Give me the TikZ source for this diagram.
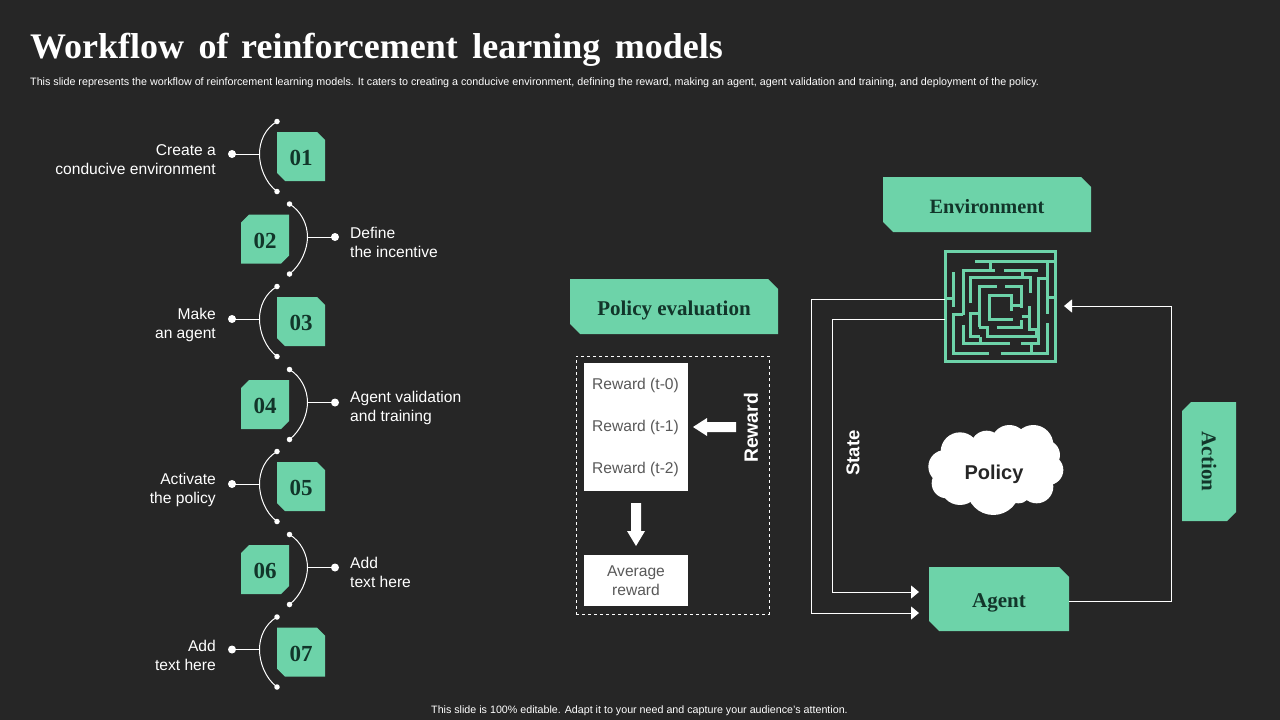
\documentclass[tikz,border=0pt]{standalone}
\usepackage{fontspec}
\setmainfont{Liberation Sans}
\newfontfamily\serifbold{Liberation Serif}
\usetikzlibrary{arrows.meta}
\definecolor{bg}{HTML}{262626}
\definecolor{mint}{HTML}{6DD3A9}
\definecolor{ink}{HTML}{12352A}
\definecolor{greytext}{HTML}{595959}
\newcommand{\fs}[1]{\fontsize{#1}{#1}\selectfont\baselineskip=1.22\baselineskip}
\tikzset{
  tagbase/.style={rectangle,text=ink,inner sep=0pt,outer sep=0pt,text depth=0pt},
  cutA/.style={path picture={
    \fill[mint] (path picture bounding box.north west) -- ([xshift=-#1]path picture bounding box.north east) -- ([yshift=-#1]path picture bounding box.north east) -- (path picture bounding box.south east) -- ([xshift=#1]path picture bounding box.south west) -- ([yshift=#1]path picture bounding box.south west) -- cycle;}},
  cutB/.style={path picture={
    \fill[mint] ([xshift=#1]path picture bounding box.north west) -- (path picture bounding box.north east) -- ([yshift=#1]path picture bounding box.south east) -- ([xshift=-#1]path picture bounding box.south east) -- (path picture bounding box.south west) -- ([yshift=-#1]path picture bounding box.north west) -- cycle;}},
  numtag/.style={tagbase,minimum width=48pt,minimum height=49pt,text height=18pt,font=\serifbold\bfseries\fs{23}},
  bigtag/.style={tagbase,cutA=10pt,text height=#1,font=\serifbold\bfseries\fs{21}},
  label/.style={text=white,font=\fs{15.6},inner sep=0pt,align=left,anchor=west},
  labelr/.style={text=white,font=\fs{15.6},inner sep=0pt,align=right,anchor=east},
  wire/.style={draw=white,line width=1pt},
  mazeink/.style={color=mint,line width=3pt,line cap=butt},
  arrowline/.style={wire,-{Triangle[length=8pt,width=13pt,fill=white]}},
  rewtext/.style={text=greytext,font=\fs{15.6},inner sep=0pt},
  whitebox/.style={fill=white,text=greytext,font=\fs{15.6},inner sep=0pt,align=center},
  dotbig/.style={circle,fill=white,inner sep=0pt,minimum size=8pt},
  dotsmall/.style={circle,fill=white,inner sep=0pt,minimum size=5.5pt},
}
\newcommand{\oddrow}[5]{% id, ycenter, number, line1, line2
  \node[numtag,cutA=8pt] (t#1) at (301,#2) {#3};
  \node[dotsmall] (u#1) at (277,#2-35) {};
  \node[dotsmall] (d#1) at (277,#2+35) {};
  \node[dotbig] (p#1) at (232,#2-2.5) {};
  \coordinate (m#1) at (259.5,#2-2.5);
  \draw[wire] (u#1.center) .. controls (265,#2-28) and (259.5,#2-15) .. (m#1) .. controls (259.5,#2+10) and (265,#2+26) .. (d#1.center);
  \draw[wire] (p#1.center) -- (m#1);
  \node[labelr] (l#1) at (216,#2+3) {#4\\#5};
}
\newcommand{\evenrow}[5]{%
  \node[numtag,cutB=8pt] (t#1) at (265,#2) {#3};
  \node[dotsmall] (u#1) at (289.5,#2-35) {};
  \node[dotsmall] (d#1) at (289.5,#2+35) {};
  \node[dotbig] (p#1) at (335,#2-2) {};
  \coordinate (m#1) at (307.5,#2-2);
  \draw[wire] (u#1.center) .. controls (301,#2-28) and (307.5,#2-15) .. (m#1) .. controls (307.5,#2+10) and (301,#2+26) .. (d#1.center);
  \draw[wire] (p#1.center) -- (m#1);
  \node[label] (l#1) at (350,#2+3) {#4\\#5};
}
\begin{document}
\begin{tikzpicture}[x=1pt,y=-1pt]
\useasboundingbox (0,0) rectangle (1280,720);
\fill[bg] (0,0) rectangle (1280,720);
\node[anchor=base west,inner sep=0pt,text=white,font=\serifbold\bfseries\fs{36}] (title) at (30,58) {Workflow\hspace{5.5pt} of\hspace{3.5pt} reinforcement\hspace{5.5pt} learning\hspace{5.5pt} models};
\node[anchor=base west,inner sep=0pt,text=white,font=\fs{10.73}] (sub) at (30,85) {This slide represents the workflow of reinforcement learning models. It caters to creating a conducive environment, defining the reward, making an agent, agent validation and training, and deployment of the policy.};
\node[anchor=base,inner sep=0pt,text=white,font=\fs{10.7}] (foot) at (639.5,713) {This slide is 100\% editable. Adapt it to your need and capture your audience's attention.};

\oddrow{1}{156.5}{01}{Create a}{conducive environment}
\evenrow{2}{239}{02}{Define}{the incentive}
\oddrow{3}{321.5}{03}{Make}{an agent}
\evenrow{4}{404.5}{04}{Agent validation}{and training}
\oddrow{5}{486.5}{05}{Activate}{the policy}
\evenrow{6}{569.5}{06}{Add}{text here}
\oddrow{7}{652}{07}{Add}{text here}

% policy evaluation
\node[bigtag=17pt,minimum width=208pt,minimum height=55pt] (pe) at (674,306.5) {Policy evaluation};
\node[draw=white,dashed,line width=1pt,minimum width=193pt,minimum height=258pt,inner sep=0pt] (dash) at (672.5,485) {};
\node[fill=white,minimum width=104pt,minimum height=128pt,inner sep=0pt] (rew) at (636,427) {};
\node[rewtext] (r0) at (635.5,385) {Reward (t-0)};
\node[rewtext] (r1) at (635.5,427) {Reward (t-1)};
\node[rewtext] (r2) at (635.5,469) {Reward (t-2)};
\node[whitebox,minimum width=104pt,minimum height=51pt] (avg) at (636,580.5) {\raisebox{-1pt}{Average}\\\raisebox{-1pt}{reward}};
\fill[white] (693,427) -- (707,418) -- (707,422) -- (736,422) -- (736,432) -- (707,432) -- (707,436) -- cycle;
\fill[white] (636,546) -- (627,531) -- (631,531) -- (631,503) -- (641,503) -- (641,531) -- (645,531) -- cycle;
\node[rotate=90,text=white,font=\bfseries\fs{19.3},inner sep=0pt] (rl) at (751,428) {Reward};

% right
\node[bigtag=18pt,minimum width=208pt,minimum height=55pt,font=\serifbold\bfseries\fs{20.3}] (env) at (987,204.5) {Environment};
\node[bigtag=17pt,minimum width=140pt,minimum height=64pt] (agent) at (999,599) {Agent};
\node[tagbase,cutB=9pt,minimum width=54pt,minimum height=119pt] (action) at (1209,461.5) {};
\node[rotate=-90,text=ink,font=\serifbold\bfseries\fs{21},inner sep=0pt] (actl) at (1209,461.5) {Action};
\node[rotate=90,text=white,font=\bfseries\fs{18.5},inner sep=0pt] (statel) at (853,453) {State};

% maze
\node[minimum width=111pt,minimum height=111pt,inner sep=0pt] (maze) at (1000.5,306) {};
\begin{scope}[shift={(930,240)},x=0.3333pt,y=-0.3333pt,mazeink]
\draw[line cap=square] (45,33) rectangle (378,366);
\draw (135,63) -- (378,63);
\draw (180,63) -- (180,93);
\draw (100,225) -- (100,93) -- (195,93);
\draw (222,93) -- (325,93);
\draw (277,93) -- (277,113);
\draw (122,190) -- (122,113) -- (300,113) -- (300,160);
\draw (148,262) -- (148,140) -- (200,140);
\draw (225,140) -- (275,140) -- (275,205);
\draw (100,225) -- (70,225) -- (70,340) -- (178,340);
\draw (70,97) -- (70,200);
\draw (45,177) -- (70,177);
\draw (352,63) -- (352,222);
\draw (352,172) -- (378,172);
\draw (350,117) -- (325,117) -- (325,312) -- (272,312);
\draw (305,312) -- (305,340);
\draw (212,340) -- (352,340) -- (352,250);
\draw (100,255) -- (100,312) -- (240,312);
\draw (150,290) -- (150,312);
\draw (145,222) -- (122,222) -- (122,290) -- (150,290);
\draw (148,262) -- (172,262) -- (172,290) -- (318,290) -- (318,268) -- (298,268) -- (298,198);
\draw (275,230) -- (298,230);
\draw (200,262) -- (275,262) -- (275,240);
\draw (245,212) -- (245,168) -- (178,168) -- (178,238) -- (250,238);
\draw (245,198) -- (275,198);
\end{scope}

% cloud
\begin{scope}[shift={(920,415)},x=0.3333pt,y=-0.3333pt]
\fill[white] (100,80) rectangle (360,235);
\foreach \cx/\cy/\r in {120/110/58,200/95/48,268/85/55,340/90/60,375/120/45,385/165/45,350/215/50,220/220/80,120/210/60,75/155/50,80/205/45,295/225/40,110/165/70}{
  \fill[white] (\cx,\cy) circle[radius=\r*0.3333pt];
}
\end{scope}
\node[text=bg,font=\bfseries\fs{20},inner sep=0pt] (pol) at (994,474) {Policy};

% connectors
\coordinate (s1) at (maze.west |- 0,299);
\coordinate (s2) at (maze.west |- 0,319);
\coordinate (a1) at (agent.west |- 0,613);
\coordinate (a2) at (agent.west |- 0,592);
\coordinate (ain) at (1064,306);
\draw[arrowline,shorten >=10pt] (s1) -- (811,299) -- (811,613) -- (a1);
\draw[arrowline,shorten >=10pt] (s2) -- (832,319) -- (832,592) -- (a2);
\draw[arrowline] (agent.east |- 0,601) -- (1171,601) -- (1171,306) -- (ain);
\end{tikzpicture}
\end{document}
